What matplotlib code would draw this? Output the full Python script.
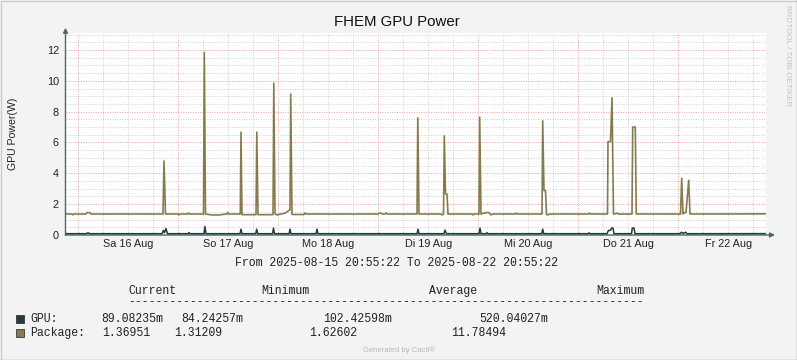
import matplotlib
matplotlib.use("Agg")
import matplotlib.pyplot as plt
from matplotlib.lines import Line2D
from matplotlib.patches import Rectangle

# Package power (W): breakpoints, hours since 2025-08-15 20:55:22
pkg_hours = [0.0, 1.56, 1.8, 2.04, 4.92, 5.16, 5.88, 6.12,
             23.4, 23.64, 24.0, 27.0, 27.24, 27.48, 29.28, 29.52, 29.76,
             33.12, 33.31, 33.6, 35.16, 37.08, 37.56, 38.76, 38.93, 39.24,
             41.95, 42.12, 42.36, 45.72, 45.91, 46.2, 49.8, 49.99, 50.28,
             50.76, 51.48, 52.2, 52.92, 53.64, 53.88, 54.05, 54.36,
             57.24, 57.48, 57.72, 75.0, 75.48, 76.08, 76.68, 76.92, 77.28,
             84.36, 84.55, 84.84, 90.12, 90.36, 90.72, 90.91, 91.2, 91.56, 91.8,
             97.6, 97.8, 98.04, 99.24, 99.41, 99.72, 100.92, 101.64, 102.12, 102.6,
             108.0, 108.24, 108.48, 114.36, 114.53, 114.84, 115.2, 115.44, 115.8, 116.28,
             125.52, 125.76, 126.0, 130.08, 130.2, 130.8, 131.16, 131.52, 132.36, 132.72,
             135.96, 136.13, 136.75, 136.99, 147.6, 147.89, 148.2, 148.44, 148.92,
             149.57, 149.88, 168.0]
pkg_watts = [1.36, 1.36, 1.31, 1.36, 1.36, 1.45, 1.45, 1.36,
             1.36, 4.8, 1.36, 1.36, 1.31, 1.36, 1.36, 1.43, 1.36,
             1.36, 11.84, 1.36, 1.30, 1.30, 1.33, 1.36, 1.46, 1.36,
             1.36, 6.67, 1.32, 1.32, 6.67, 1.32, 1.32, 9.85, 1.38,
             1.30, 1.36, 1.38, 1.45, 1.60, 1.62, 9.14, 1.33,
             1.33, 1.43, 1.36, 1.36, 1.43, 1.36, 1.36, 1.43, 1.36,
             1.36, 7.6, 1.36, 1.36, 1.30, 1.36, 6.43, 2.66, 2.66, 1.36,
             1.36, 1.30, 1.36, 1.36, 7.64, 1.36, 1.45, 1.45, 1.31, 1.36,
             1.36, 1.42, 1.36, 1.36, 7.4, 2.88, 2.88, 1.33, 1.31, 1.36,
             1.36, 1.42, 1.36, 1.36, 6.06, 6.06, 8.9, 1.36, 1.41, 1.36,
             1.36, 7.0, 7.0, 1.36, 1.36, 3.68, 1.36, 1.45, 1.45,
             3.55, 1.36, 1.37]

# GPU power (W)
gpu_hours = [0.0, 4.92, 5.4, 5.88, 23.16, 23.52, 23.76, 24.12, 24.48,
             29.4, 29.64, 29.88, 33.24, 33.48, 33.72, 41.88, 42.12, 42.36,
             45.65, 45.89, 46.13, 49.68, 49.92, 50.16, 53.64, 53.88, 54.12,
             60.12, 60.36, 60.6, 84.36, 84.6, 84.84, 90.84, 91.08, 91.44,
             99.24, 99.48, 99.72, 100.92, 101.16, 101.4, 114.29, 114.53, 114.77,
             125.4, 125.64, 125.88, 129.96, 130.32, 130.8, 131.04, 131.4, 131.64,
             135.84, 136.03, 136.44, 136.68, 147.48, 147.84, 148.2, 148.8, 149.16, 168.0]
gpu_watts = [0.085, 0.085, 0.14, 0.085, 0.085, 0.30, 0.15, 0.42, 0.085,
             0.085, 0.16, 0.085, 0.085, 0.55, 0.085, 0.085, 0.38, 0.085,
             0.085, 0.38, 0.085, 0.085, 0.45, 0.085, 0.085, 0.38, 0.085,
             0.085, 0.38, 0.085, 0.085, 0.38, 0.085, 0.085, 0.32, 0.085,
             0.085, 0.45, 0.085, 0.085, 0.15, 0.085, 0.085, 0.38, 0.085,
             0.085, 0.14, 0.085, 0.085, 0.30, 0.30, 0.45, 0.45, 0.085,
             0.085, 0.45, 0.45, 0.085, 0.085, 0.18, 0.10, 0.18, 0.085, 0.089]

day_labels = ["Sa 16 Aug", "So 17 Aug", "Mo 18 Aug", "Di 19 Aug",
              "Mi 20 Aug", "Do 21 Aug", "Fr 22 Aug"]
first_midnight = 3.077  # hours from start to 2025-08-16 00:00

legend_header = ["Current", "Minimum", "Average", "Maximum"]
gpu_stats = ["89.08235m", "84.24257m", "102.42598m", "520.04027m"]
pkg_stats = ["1.36951", "1.31209", "1.62602", "11.78494"]

gpu_color = "#243c3f"
pkg_color = "#857c4e"
axis_color = "#466a63"

W, H = 797, 360
fig = plt.figure(figsize=(W / 100, H / 100), dpi=100, facecolor="#f3f3f3")
ax = fig.add_axes([65.5 / W, (H - 235) / H, 700 / W, 202 / H], facecolor="white")
ax.set_xlim(0, 168)
ax.set_ylim(0, 13.1)
for s in ax.spines.values():
    s.set_visible(False)

# grid, drawn by hand like rrdtool
dot = (0, (1, 1.5))
h = first_midnight - 24
while h < 168:
    for k in range(4):
        t = h + 6 * k
        if 0 < t < 168:
            ax.axvline(t, color="#e8a0a0" if k == 0 else "#cfcfcf", lw=0.7, ls=dot, zorder=1)
    h += 24
for i in range(1, 27):
    ax.axhline(i * 0.5, color="#e8a0a0" if i % 4 == 0 else "#cfcfcf", lw=0.7, ls=dot, zorder=1)

ax.plot(pkg_hours, pkg_watts, color=pkg_color, lw=1.2, zorder=3)
ax.plot(gpu_hours, gpu_watts, color=gpu_color, lw=1.1, zorder=4)

# axes with arrows
ax.annotate("", xy=(0, 1.026), xytext=(0, 0), xycoords="axes fraction",
            arrowprops=dict(arrowstyle="-|>", color=axis_color, lw=1, mutation_scale=7,
                            shrinkA=0, shrinkB=0), annotation_clip=False)
ax.annotate("", xy=(1.0136, 0), xytext=(0, 0), xycoords="axes fraction",
            arrowprops=dict(arrowstyle="-|>", color=axis_color, lw=1, mutation_scale=7,
                            shrinkA=0, shrinkB=0), annotation_clip=False)

ax.set_yticks(range(0, 13, 2))
ax.set_yticklabels([str(v) for v in range(0, 13, 2)])
ax.set_xticks([first_midnight + 12 + 24 * k for k in range(len(day_labels))])
ax.set_xticklabels(day_labels)
ax.tick_params(axis="both", length=0, labelsize=7.8, colors="#222222")
ax.tick_params(axis="y", pad=4.7)
ax.tick_params(axis="x", pad=3)
for lab in ax.get_xticklabels() + ax.get_yticklabels():
    lab.set_family("Liberation Sans")

ax.set_ylabel("GPU Power(W)", fontsize=7.6, family="Liberation Sans", color="#222222")
ax.yaxis.set_label_coords((17.5 - 65.5) / 700, 0.5)

fig.text(397 / W, 1 - 22 / H, "FHEM GPU Power", ha="center", va="center",
         fontsize=10.8, family="Liberation Sans", color="#111111")

mono = dict(family="Liberation Mono", fontsize=8.3, color="#222222", va="center")
fig.text(397 / W, 1 - 263 / H, "From 2025-08-15 20:55:22 To 2025-08-22 20:55:22",
         ha="center", **mono)

head_x = [128.3, 261, 429.3, 596.7]
for x, t in zip(head_x, legend_header):
    fig.text(x / W, 1 - 290.7 / H, t, ha="left", **mono)
fig.text(128.3 / W, 1 - 302 / H, "-" * 75, ha="left", **mono)

gpu_x = [101.7, 181.7, 323.3, 479]
pkg_x = [101.7, 174.3, 309.3, 450.7]
for row_y, name, color, xs, vals in [(319, "GPU:", gpu_color, gpu_x, gpu_stats),
                                     (332.7, "Package:", pkg_color, pkg_x, pkg_stats)]:
    fig.patches.append(Rectangle((15.5 / W, 1 - (row_y + 4) / H), 8 / W, 8 / H,
                                 transform=fig.transFigure, facecolor=color,
                                 edgecolor="#222222", lw=0.5))
    fig.text(30 / W, 1 - row_y / H, name, ha="left", **mono)
    for x, v in zip(xs, vals):
        fig.text(x / W, 1 - row_y / H, v, ha="left", **mono)

fig.text(399 / W, 1 - 350 / H, "Generated by Cacti®", ha="center", va="center",
         fontsize=5.5, family="Liberation Sans", color="#b8b8b8")
fig.text(788 / W, 1 - 56 / H, "RRDTOOL / TOBI OETIKER", ha="center", va="center",
         rotation=-90, fontsize=5.8, family="Liberation Sans", color="#c4c4c4")

# frame
fig.lines.append(Line2D([0.5 / W, 0.5 / W, 1 - 0.5 / W], [0, 1 - 0.5 / H, 1 - 0.5 / H],
                        transform=fig.transFigure, color="#cccccc", lw=1))
fig.lines.append(Line2D([0.5 / W, 1 - 0.5 / W, 1 - 0.5 / W], [0.5 / H, 0.5 / H, 1],
                        transform=fig.transFigure, color="#999999", lw=1))

fig.savefig("out.png", dpi=100, facecolor=fig.get_facecolor())
